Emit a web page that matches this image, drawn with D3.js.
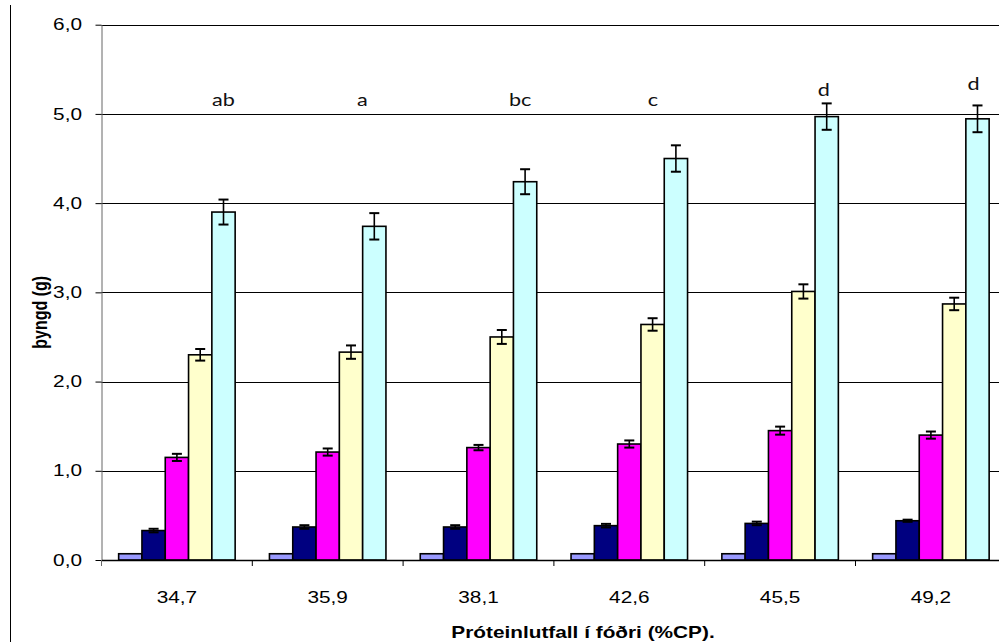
<!DOCTYPE html>
<html>
<head>
<meta charset="utf-8">
<script src="https://cdn.jsdelivr.net/npm/d3@7"></script>
<style>
  html, body { margin: 0; padding: 0; background: #fff; }
  svg { display: block; }
</style>
</head>
<body>
<svg id="chart" width="999" height="642"></svg>
<script>
// ---------------- data ----------------
const categories = ["34,7", "35,9", "38,1", "42,6", "45,5", "49,2"];
const seriesNames = ["s1", "s2", "s3", "s4", "s5"];
const s1 = [0.07, 0.07, 0.07, 0.07, 0.07, 0.07];
const s2 = [0.33, 0.37, 0.37, 0.385, 0.41, 0.44];
const s3 = [1.15, 1.21, 1.26, 1.30, 1.45, 1.40];
const s4 = [2.30, 2.33, 2.50, 2.64, 3.01, 2.87];
const s5 = [3.90, 3.74, 4.24, 4.50, 4.97, 4.945];
const e1 = [0, 0, 0, 0, 0, 0];
const e2 = [0.02, 0.02, 0.02, 0.02, 0.02, 0.012];
const e3 = [0.04, 0.04, 0.03, 0.04, 0.045, 0.04];
const e4 = [0.065, 0.075, 0.078, 0.07, 0.08, 0.07];
const e5 = [0.14, 0.148, 0.14, 0.148, 0.148, 0.15];
const letters = ["ab", "a", "bc", "c", "d", "d"];
const yTicks = [0, 1, 2, 3, 4, 5, 6];
const yTitle = "þyngd (g)";
const xTitle = "Próteinlutfall í fóðri (%CP).";

// ---------------- layout / style ----------------
const colors = ["#9999FF", "#000080", "#FF00FF", "#FFFFCC", "#CCFFFF"];
const values = [s1, s2, s3, s4, s5];
const errors = [e1, e2, e3, e4, e5];
const plot = { left: 101.5, right: 1006.3, top: 24.7, bottom: 560 };
const letterNudge = [[0, 106], [-12, 106], [-5, 106], [-23, 106], [-3, 96], [-4, 90]];
const SX = 1.3; // horizontal stretch of the original rendering
const ARIAL = "Liberation Sans, Arial, sans-serif";

const svg = d3.select("#chart");

const x = d3.scaleBand().domain(categories).range([plot.left, plot.right]).padding(0);
const xs = d3.scaleBand().domain(seriesNames).range([0, x.bandwidth()])
  .paddingInner(0).paddingOuter(0.736);
const y = d3.scaleLinear().domain([0, 6]).range([plot.bottom, plot.top]);

// outer left line
svg.append("line").attr("x1", 10.5).attr("x2", 10.5).attr("y1", 5).attr("y2", 642)
  .attr("stroke", "#000").attr("stroke-width", 1);

// gridlines
svg.append("g").selectAll("line").data(yTicks.filter(d => d > 0)).join("line")
  .attr("x1", plot.left).attr("x2", 999)
  .attr("y1", d => Math.round(y(d)) + 0.5).attr("y2", d => Math.round(y(d)) + 0.5)
  .attr("stroke", "#000").attr("stroke-width", 1);

// y axis
const yAxis = d3.axisLeft(y).tickValues(yTicks).tickSize(6).tickSizeOuter(0).tickPadding(12)
  .tickFormat(d => d3.format(".1f")(d).replace(".", ","));
const gy = svg.append("g").attr("transform", `translate(${plot.left},0)`).call(yAxis);
gy.select(".domain").attr("stroke", "#666");
gy.selectAll(".tick line").attr("stroke", "#000");
gy.selectAll(".tick text").attr("font-family", ARIAL)
  .attr("font-size", 16).attr("fill", "#000")
  .attr("x", -19.5 / SX).attr("transform", `scale(${SX},1)`);

// bars
const groups = svg.append("g").selectAll("g").data(categories).join("g")
  .attr("transform", d => `translate(${x(d)},0)`);

groups.each(function(cat, ci) {
  const g = d3.select(this);
  seriesNames.forEach((s, si) => {
    const v = values[si][ci];
    g.append("rect")
      .attr("x", xs(s)).attr("width", xs.bandwidth())
      .attr("y", y(v)).attr("height", y(0) - y(v))
      .attr("fill", colors[si]).attr("stroke", "#000").attr("stroke-width", 1.6);
  });
  seriesNames.forEach((s, si) => {
    const v = values[si][ci], e = errors[si][ci];
    if (e <= 0) return;
    const cx = xs(s) + xs.bandwidth() / 2;
    const ys = [y(v + e), y(v - e)];
    g.append("line").attr("x1", cx).attr("x2", cx).attr("y1", ys[0]).attr("y2", ys[1])
      .attr("stroke", "#000").attr("stroke-width", 1.6);
    ys.forEach(yy => g.append("line").attr("x1", cx - 5).attr("x2", cx + 5)
      .attr("y1", yy).attr("y2", yy).attr("stroke", "#000").attr("stroke-width", 2));
  });
});

// x axis
const xAxis = d3.axisBottom(x).tickSize(0).tickSizeOuter(0).tickPadding(32);
const gx = svg.append("g").attr("transform", `translate(0,${plot.bottom})`).call(xAxis);
gx.select(".domain").attr("stroke", "#000").attr("stroke-width", 1.3);
gx.selectAll(".tick text").attr("font-family", ARIAL)
  .attr("font-size", 16).attr("fill", "#000").attr("transform", `scale(${SX},1)`);
// category boundary ticks (including the left edge)
const boundaries = [plot.left].concat(categories.map(d => x(d) + x.bandwidth()));
svg.append("g").selectAll("line").data(boundaries).join("line")
  .attr("x1", d => d).attr("x2", d => d)
  .attr("y1", plot.bottom).attr("y2", plot.bottom + 6)
  .attr("stroke", (d, i) => i === 0 ? "#666" : "#000").attr("stroke-width", 1);

// significance letters
svg.append("g").selectAll("text").data(letters).join("text")
  .attr("transform", (d, i) =>
    `translate(${x(categories[i]) + xs("s5") + xs.bandwidth() / 2 + letterNudge[i][0]},${letterNudge[i][1]}) scale(1.2,1)`)
  .attr("text-anchor", "middle")
  .attr("font-family", "Lato, Carlito, sans-serif").attr("font-size", 18).attr("fill", "#111")
  .text(d => d);

// titles
svg.append("text").attr("transform", `translate(583,638) scale(${SX},1)`)
  .attr("text-anchor", "middle").attr("font-family", ARIAL)
  .attr("font-size", 16).attr("font-weight", "bold").text(xTitle);
svg.append("text")
  .attr("transform", `translate(47,${(plot.top + plot.bottom) / 2 + 20}) scale(${SX},1) rotate(-90)`)
  .attr("text-anchor", "middle").attr("font-family", ARIAL)
  .attr("font-size", 16).attr("font-weight", "bold").text(yTitle);
</script>
</body>
</html>
